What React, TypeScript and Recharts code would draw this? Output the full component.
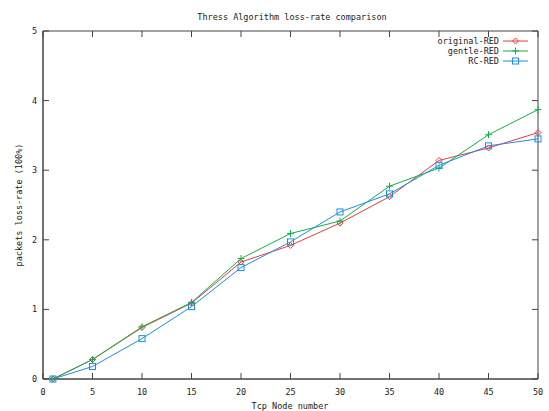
import React from 'react';
import { LineChart, Line, XAxis, YAxis, ReferenceArea, Legend, Customized } from 'recharts';

const nodes = [1, 5, 10, 15, 20, 25, 30, 35, 40, 45, 50];
const originalRED = [0, 0.28, 0.74, 1.09, 1.68, 1.92, 2.24, 2.62, 3.14, 3.32, 3.54];
const gentleRED = [0, 0.28, 0.75, 1.1, 1.73, 2.09, 2.27, 2.77, 3.03, 3.51, 3.87];
const rcRED = [0, 0.18, 0.58, 1.04, 1.6, 1.97, 2.4, 2.66, 3.07, 3.35, 3.45];
const xTicks = [0, 5, 10, 15, 20, 25, 30, 35, 40, 45, 50];
const yTicks = [0, 1, 2, 3, 4, 5];
const seriesNames = ['original-RED', 'gentle-RED', 'RC-RED'];
const titleText = 'Thress Algorithm loss-rate comparison';
const xLabelText = 'Tcp Node number';
const yLabelText = 'packets loss-rate (100%)';

const data = nodes.map((n, i) => ({
  x: n,
  orig: originalRED[i],
  gentle: gentleRED[i],
  rc: rcRED[i],
}));

const W = 549;
const H = 411;
const PLOT_LEFT = 43;
const PLOT_TOP = 31;
const PLOT_RIGHT = 538;
const PLOT_BOTTOM = 379;
const FONT = '"DejaVu Sans Mono", "Liberation Mono", monospace';
const FS = 8.5;
const TEXT = '#222';
const FRAME = '#444';
const RED = '#f23a3a';
const GREEN = '#12b04a';
const BLUE = '#1a8ee6';

const Diamond = ({ cx, cy, color }: any) => (
  <path d={`M${cx},${cy - 3} L${cx + 3},${cy} L${cx},${cy + 3} L${cx - 3},${cy} Z`} fill="none" stroke={color} strokeWidth={1} />
);
const Plus = ({ cx, cy, color }: any) => (
  <path d={`M${cx - 3.5},${cy} L${cx + 3.5},${cy} M${cx},${cy - 3.5} L${cx},${cy + 3.5}`} fill="none" stroke={color} strokeWidth={1} />
);
const Square = ({ cx, cy, color }: any) => (
  <rect x={cx - 3} y={cy - 3} width={6} height={6} fill="none" stroke={color} strokeWidth={1} />
);

const markers = [Diamond, Plus, Square];
const colors = [RED, GREEN, BLUE];

const XTick = (props: any) => {
  const { x, y, payload } = props;
  return (
    <g>
      <line x1={x} y1={y} x2={x} y2={y - 6} stroke={FRAME} />
      <line x1={x} y1={PLOT_TOP} x2={x} y2={PLOT_TOP + 6} stroke={FRAME} />
      <text x={x} y={y + 16} textAnchor="middle" fontFamily={FONT} fontSize={FS} fill={TEXT}>
        {payload.value}
      </text>
    </g>
  );
};

const YTick = (props: any) => {
  const { x, y, payload } = props;
  return (
    <g>
      <line x1={x} y1={y} x2={x + 6} y2={y} stroke={FRAME} />
      <line x1={PLOT_RIGHT} y1={y} x2={PLOT_RIGHT - 6} y2={y} stroke={FRAME} />
      <text x={x - 6} y={y + 3} textAnchor="end" fontFamily={FONT} fontSize={FS} fill={TEXT}>
        {payload.value}
      </text>
    </g>
  );
};

const Labels = () => (
  <g>
    <text x={292} y={20} textAnchor="middle" fontFamily={FONT} fontSize={FS} fill={TEXT}>
      {titleText}
    </text>
    <text x={290} y={409} textAnchor="middle" fontFamily={FONT} fontSize={FS} fill={TEXT}>
      {xLabelText}
    </text>
    <text
      x={22}
      y={205}
      textAnchor="middle"
      fontFamily={FONT}
      fontSize={FS}
      fill={TEXT}
      transform="rotate(-90 22 205)"
    >
      {yLabelText}
    </text>
  </g>
);

const LegendContent = () => (
  <svg width={160} height={34}>
    {seriesNames.map((name, i) => {
      const y = 6 + i * 10;
      const M = markers[i];
      return (
        <g key={name}>
          <text x={119} y={y + 3} textAnchor="end" fontFamily={FONT} fontSize={FS} fill={TEXT}>
            {name}
          </text>
          <line x1={123} y1={y} x2={148} y2={y} stroke={colors[i]} strokeWidth={1} />
          <M cx={135.5} cy={y} color={colors[i]} />
        </g>
      );
    })}
  </svg>
);

export default function App() {
  const keys = ['orig', 'gentle', 'rc'];
  return (
    <div style={{ position: 'absolute', left: 0, top: 0, width: W, height: H, background: '#fff' }}>
      <LineChart
        width={W}
        height={H}
        data={data}
        margin={{ top: PLOT_TOP, right: W - PLOT_RIGHT, left: 0, bottom: 0 }}
      >
        <XAxis
          dataKey="x"
          type="number"
          domain={[0, 50]}
          ticks={xTicks}
          interval={0}
          height={H - PLOT_BOTTOM}
          tickSize={0}
          tickMargin={0}
          tickLine={false}
          axisLine={{ stroke: FRAME }}
          tick={<XTick />}
        />
        <YAxis
          type="number"
          domain={[0, 5]}
          ticks={yTicks}
          interval={0}
          width={PLOT_LEFT}
          tickSize={0}
          tickMargin={0}
          tickLine={false}
          axisLine={{ stroke: FRAME }}
          tick={<YTick />}
        />
        <ReferenceArea x1={0} x2={50} y1={0} y2={5} fill="none" stroke={FRAME} strokeWidth={1} ifOverflow="visible" />
        {keys.map((k, i) => {
          const M = markers[i];
          return (
            <Line
              key={k}
              dataKey={k}
              name={seriesNames[i]}
              type="linear"
              stroke={colors[i]}
              strokeWidth={1}
              isAnimationActive={false}
              dot={(p: any) => <M key={`${k}-${p.index}`} cx={p.cx} cy={p.cy} color={colors[i]} />}
              activeDot={false}
            />
          );
        })}
        <Legend
          layout="vertical"
          align="center"
          verticalAlign="middle"
          wrapperStyle={{ position: 'absolute', top: 35, left: 380, width: 160, height: 34 }}
          content={<LegendContent />}
        />
        <Customized component={<Labels />} />
      </LineChart>
    </div>
  );
}
